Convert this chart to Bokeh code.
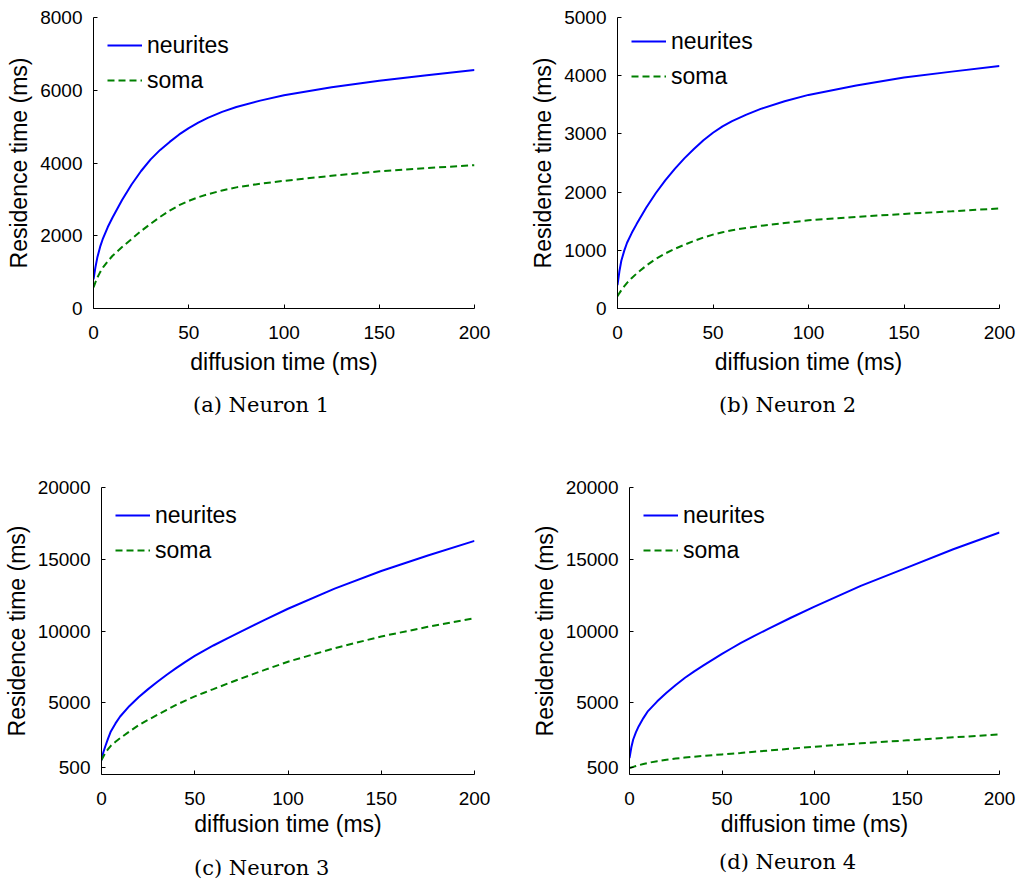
from bokeh.plotting import figure
from bokeh.models import Legend, LegendItem, Div, FixedTicker, Range1d
from bokeh.layouts import row, column
from bokeh.embed import file_html
from bokeh.resources import INLINE

# ---- data ----
diffusion_time = [0, 1, 2, 3.5, 5, 7.5, 10, 15, 20, 25, 30, 35, 40, 45, 50, 55, 60, 67.5, 75, 87.5,
                  100, 125, 150, 175, 200]

n1_neurites = [800, 1130, 1400, 1700, 1930, 2240, 2500, 2980, 3410, 3780, 4100, 4360, 4580, 4785, 4960,
               5110, 5240, 5405, 5540, 5715, 5860, 6080, 6260, 6415, 6555]
n1_soma = [580, 720, 850, 1000, 1130, 1300, 1450, 1690, 1910, 2130, 2330, 2520, 2690, 2840, 2960,
           3060, 3140, 3245, 3330, 3430, 3510, 3650, 3770, 3860, 3940]

n2_neurites = [400, 640, 820, 990, 1130, 1300, 1450, 1730, 1980, 2200, 2400, 2580, 2740, 2890, 3020,
               3130, 3220, 3330, 3430, 3560, 3670, 3830, 3970, 4070, 4165]
n2_soma = [210, 265, 315, 380, 440, 525, 600, 735, 850, 945, 1025, 1095, 1160, 1220, 1270,
           1310, 1345, 1385, 1420, 1470, 1515, 1575, 1625, 1670, 1720]

n3_neurites = [1000, 1550, 1950, 2500, 3000, 3560, 4040, 4780, 5400, 5950, 6460, 6950, 7410, 7850, 8260,
               8640, 8990, 9490, 9970, 10770, 11550, 12950, 14180, 15260, 16280]
n3_soma = [1000, 1250, 1500, 1760, 2000, 2280, 2530, 3000, 3440, 3810, 4160, 4510, 4850, 5150, 5440,
           5700, 5950, 6330, 6700, 7290, 7860, 8800, 9620, 10290, 10890]

n4_neurites = [1150, 1900, 2440, 2950, 3370, 3930, 4420, 5100, 5700, 6240, 6740, 7190, 7600, 8000, 8400,
               8780, 9150, 9660, 10150, 10940, 11700, 13140, 14420, 15700, 16860]
n4_soma = [450, 490, 530, 590, 650, 730, 810, 930, 1030, 1110, 1180, 1240, 1295, 1350, 1400,
           1450, 1500, 1585, 1670, 1805, 1940, 2170, 2380, 2590, 2790]

x_ticks = [0, 50, 100, 150, 200]
y_ticks_1 = [0, 2000, 4000, 6000, 8000]
y_ticks_2 = [0, 1000, 2000, 3000, 4000, 5000]
y_ticks_34 = [500, 5000, 10000, 15000, 20000]
y_max = [8000, 5000, 20000, 20000]

captions = ["(a) Neuron 1", "(b) Neuron 2", "(c) Neuron 3", "(d) Neuron 4"]
series_names = ["neurites", "soma"]

SANS = "Liberation Sans"
TICK_FS = "19px"
LABEL_FS = "23px"


def panel(neur, soma, yticks, ymax, w, h, bl, br, bt, bb, xlab_standoff):
    p = figure(width=w, height=h, output_backend="svg", toolbar_location=None,
               min_border_left=bl, min_border_right=br, min_border_top=bt, min_border_bottom=bb,
               x_range=Range1d(0, 200), y_range=Range1d(0, ymax))
    p.outline_line_color = None
    p.xgrid.visible = False
    p.ygrid.visible = False
    p.background_fill_color = "white"
    p.border_fill_color = "white"

    l1 = p.line(diffusion_time, neur, line_color="#0000FF", line_width=2)
    l2 = p.line(diffusion_time, soma, line_color="#008000", line_width=2, line_dash="7 4")

    for ax in (p.xaxis[0], p.yaxis[0]):
        ax.axis_line_color = "black"
        ax.axis_line_width = 1
        ax.major_tick_in = 4
        ax.major_tick_out = 0
        ax.minor_tick_line_color = None
        ax.major_tick_line_color = "black"
        ax.major_label_text_font = SANS
        ax.major_label_text_font_size = TICK_FS
        ax.major_label_text_color = "black"
        ax.axis_label_text_font = SANS
        ax.axis_label_text_font_size = LABEL_FS
        ax.axis_label_text_font_style = "normal"
        ax.axis_label_text_color = "black"
        ax.axis_label_text_line_height = 1.0
        ax.major_label_text_line_height = 1.0

    p.xaxis[0].ticker = FixedTicker(ticks=x_ticks)
    p.yaxis[0].ticker = FixedTicker(ticks=yticks)
    p.xaxis[0].axis_label = "diffusion time (ms)"
    p.yaxis[0].axis_label = "Residence time (ms)"
    p.xaxis[0].major_label_standoff = 17
    p.xaxis[0].axis_label_standoff = xlab_standoff
    p.yaxis[0].major_label_standoff = 11
    p.yaxis[0].axis_label_standoff = 5

    fh = h - bt - bb
    leg = Legend(items=[LegendItem(label=series_names[0], renderers=[l1]),
                        LegendItem(label=series_names[1], renderers=[l2])],
                 location=(14, fh - 78))
    leg.border_line_color = None
    leg.background_fill_alpha = 0
    leg.padding = 0
    leg.margin = 0
    leg.spacing = 5
    leg.glyph_width = 35
    leg.glyph_height = 30
    leg.label_height = 30
    leg.label_standoff = 5
    leg.label_text_font = SANS
    leg.label_text_font_size = LABEL_FS
    leg.label_text_color = "black"
    p.add_layout(leg)
    return p


def caption_div(text, w, h, left, top):
    html = ('<div style="position:relative; left:%dpx; top:%dpx; white-space:nowrap;">%s</div>'
            % (left, top, text))
    return Div(text=html, width=w, height=h, margin=(0, 0, 0, 0),
               styles={"font-family": "'DejaVu Serif', serif", "font-size": "21px",
                       "line-height": "21px", "color": "black"})


# figures: p1 at (0,0) 508x390, p2 at (508,0) 512x390; captions row 390..440
#          p3 at (0,440) 508x410, p4 at (508,440) 512x410; captions row 850..882
p1 = panel(n1_neurites, n1_soma, y_ticks_1, y_max[0], 508, 390, 93, 34, 17, 82, 7)
p2 = panel(n2_neurites, n2_soma, y_ticks_2, y_max[1], 512, 390, 109, 21, 17, 78, 7)
p3 = panel(n3_neurites, n3_soma, y_ticks_34, y_max[2], 508, 410, 101, 34, 47, 76, 3)
p4 = panel(n4_neurites, n4_soma, y_ticks_34, y_max[3], 512, 410, 121, 21, 47, 76, 3)

c1 = caption_div(captions[0], 508, 50, 193, 5)
c2 = caption_div(captions[1], 512, 50, 211, 5)
c3 = caption_div(captions[2], 508, 32, 194, 8)
c4 = caption_div(captions[3], 512, 32, 211, 2)

layout = column(row(p1, p2), row(c1, c2), row(p3, p4), row(c3, c4))

open("out.html", "w").write(file_html(layout, INLINE))
